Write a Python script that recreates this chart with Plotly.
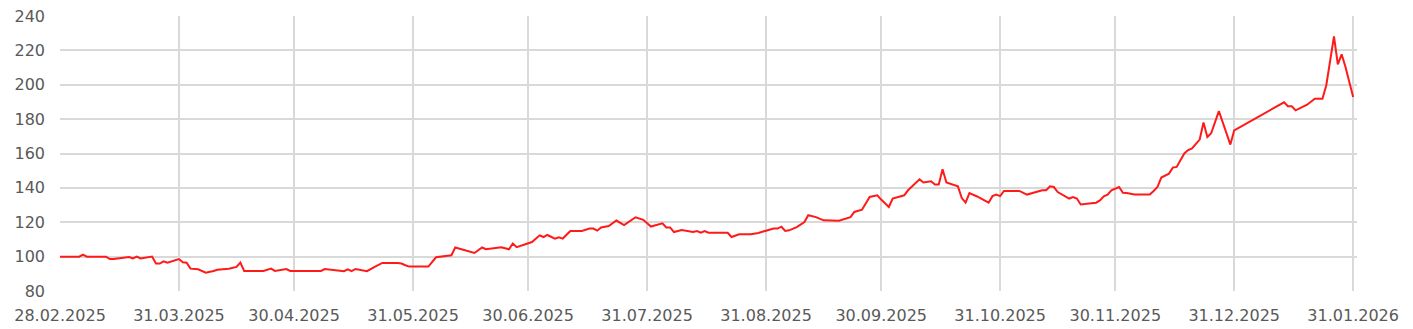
import plotly.graph_objects as go

dates = [
    "2025-02-28", "2025-03-05", "2025-03-06", "2025-03-07", "2025-03-12", "2025-03-13", "2025-03-14",
    "2025-03-18", "2025-03-19", "2025-03-20", "2025-03-21", "2025-03-24", "2025-03-25", "2025-03-26",
    "2025-03-27", "2025-03-28", "2025-03-31",
    "2025-04-01", "2025-04-02", "2025-04-03", "2025-04-05", "2025-04-07", "2025-04-09", "2025-04-10",
    "2025-04-13", "2025-04-15", "2025-04-16", "2025-04-17", "2025-04-22", "2025-04-24", "2025-04-25",
    "2025-04-28", "2025-04-29",
    "2025-05-07", "2025-05-08", "2025-05-13", "2025-05-14", "2025-05-15", "2025-05-16", "2025-05-19",
    "2025-05-21", "2025-05-22", "2025-05-23", "2025-05-27", "2025-05-28", "2025-05-29", "2025-05-30",
    "2025-06-04", "2025-06-05", "2025-06-06", "2025-06-10", "2025-06-11", "2025-06-16", "2025-06-18",
    "2025-06-19", "2025-06-23", "2025-06-25", "2025-06-26", "2025-06-27",
    "2025-07-01", "2025-07-03", "2025-07-04", "2025-07-05", "2025-07-07", "2025-07-08", "2025-07-09",
    "2025-07-11", "2025-07-14", "2025-07-16", "2025-07-17", "2025-07-18", "2025-07-19", "2025-07-21",
    "2025-07-23", "2025-07-25", "2025-07-28", "2025-07-30",
    "2025-08-01", "2025-08-04", "2025-08-05", "2025-08-06", "2025-08-07", "2025-08-09", "2025-08-12",
    "2025-08-13", "2025-08-14", "2025-08-15", "2025-08-16", "2025-08-21", "2025-08-22", "2025-08-24",
    "2025-08-27", "2025-08-29",
    "2025-09-02", "2025-09-03", "2025-09-04", "2025-09-05", "2025-09-06", "2025-09-08", "2025-09-10",
    "2025-09-11", "2025-09-13", "2025-09-15", "2025-09-19", "2025-09-22", "2025-09-23", "2025-09-25",
    "2025-09-27", "2025-09-29", "2025-09-30",
    "2025-10-02", "2025-10-03", "2025-10-06", "2025-10-07", "2025-10-10", "2025-10-11", "2025-10-13",
    "2025-10-14", "2025-10-15", "2025-10-16", "2025-10-17", "2025-10-20", "2025-10-21", "2025-10-22",
    "2025-10-23", "2025-10-25", "2025-10-28", "2025-10-29", "2025-10-30", "2025-10-31",
    "2025-11-01", "2025-11-05", "2025-11-07", "2025-11-11", "2025-11-12", "2025-11-13", "2025-11-14",
    "2025-11-15", "2025-11-18", "2025-11-19", "2025-11-20", "2025-11-21", "2025-11-25", "2025-11-26",
    "2025-11-27", "2025-11-28", "2025-11-29",
    "2025-12-01", "2025-12-02", "2025-12-03", "2025-12-05", "2025-12-09", "2025-12-10", "2025-12-11",
    "2025-12-12", "2025-12-14", "2025-12-15", "2025-12-16", "2025-12-18", "2025-12-19", "2025-12-20",
    "2025-12-22", "2025-12-23", "2025-12-24", "2025-12-25", "2025-12-27", "2025-12-30", "2025-12-31",
    "2026-01-13", "2026-01-14", "2026-01-15", "2026-01-16", "2026-01-19", "2026-01-21", "2026-01-23",
    "2026-01-24", "2026-01-26", "2026-01-27", "2026-01-28", "2026-01-29", "2026-01-31",
]

values = [
    100, 100, 101.2, 100, 100, 98.6, 98.6,
    99.8, 98.9, 100, 98.9, 100, 96, 96,
    97.3, 96.5, 98.6,
    96.7, 96.5, 93, 92.6, 90.7, 91.6, 92.4,
    93, 94, 96.5, 91.7, 91.7, 93, 91.7,
    92.8, 91.7,
    91.7, 92.8, 91.5, 92.6, 91.5, 92.8, 91.5,
    94, 95, 96.3, 96.3, 96, 95, 94.2,
    94.2, 96.9, 99.6, 100.8, 105.3, 102.1, 105.3,
    104.3, 105.5, 104.3, 107.6, 105.5,
    108.5, 112.4, 111.4, 112.6, 110.5, 111.2, 110.5,
    114.9, 114.9, 116.3, 116.3, 115.1, 117, 117.8,
    121, 118.4, 122.9, 121.4,
    117.5, 119.4, 117, 117, 114.3, 115.5, 114.3,
    114.9, 113.9, 114.9, 113.9, 113.9, 111.4, 113,
    113, 113.8,
    116.3, 116.3, 117.4, 114.9, 115.3, 117.2, 120.1,
    124.1, 123, 121.1, 120.9, 123, 126, 127.3,
    134.7, 135.7, 133.2,
    128.9, 133.8, 135.7, 138.6, 145, 143.1, 143.8,
    141.9, 141.9, 150.8, 143.1, 140.9, 134.1, 131.4,
    137, 135, 131.4, 135.2, 136.1, 135.2,
    138.2, 138.2, 136.1, 138.6, 138.6, 140.9, 140.5,
    137.6, 133.8, 134.7, 133.8, 130.3, 131.4, 132.7,
    135.1, 136.1, 138.6,
    140.5, 137.2, 137, 136.1, 136.1, 138.2, 140.5,
    146, 148.3, 151.8, 152.2, 160, 162, 163,
    168.1, 178, 169.6, 171.8, 184.7, 165.2, 173.5,
    189.8, 187.5, 187.5, 185.1, 188.4, 191.9, 191.9,
    199.7, 228.2, 211.9, 217.7, 210.3, 192.9,
]

tick_dates = [
    "2025-02-28", "2025-03-31", "2025-04-30", "2025-05-31", "2025-06-30", "2025-07-31",
    "2025-08-31", "2025-09-30", "2025-10-31", "2025-11-30", "2025-12-31", "2026-01-31",
]
tick_labels = [
    "28.02.2025", "31.03.2025", "30.04.2025", "31.05.2025", "30.06.2025", "31.07.2025",
    "31.08.2025", "30.09.2025", "31.10.2025", "30.11.2025", "31.12.2025", "31.01.2026",
]
y_ticks = [80, 100, 120, 140, 160, 180, 200, 220, 240]

fig = go.Figure()
fig.add_trace(go.Scatter(
    x=dates, y=values, mode="lines",
    line=dict(color="#ff1a1a", width=2),
    hoverinfo="skip", showlegend=False,
))

grid = "#d9d9d9"
fig.update_layout(
    width=1413, height=329,
    margin=dict(l=60, r=56, t=16, b=38, autoexpand=False),
    paper_bgcolor="white", plot_bgcolor="white",
    font=dict(family="DejaVu Sans", size=16, color="#595959"),
    xaxis=dict(
        type="date",
        range=["2025-02-28", "2026-02-01"],
        tickmode="array", tickvals=tick_dates, ticktext=tick_labels,
        showgrid=True, gridcolor=grid, gridwidth=1.5,
        zeroline=False, showline=False, ticks="",
        ticklabelstandoff=13, automargin=False,
    ),
    yaxis=dict(
        range=[80, 240],
        tickmode="array", tickvals=y_ticks,
        showgrid=True, gridcolor=grid, gridwidth=1.5,
        zeroline=False, showline=False, ticks="",
        ticklabelstandoff=14, automargin=False,
    ),
)

fig.write_html("out.html")
